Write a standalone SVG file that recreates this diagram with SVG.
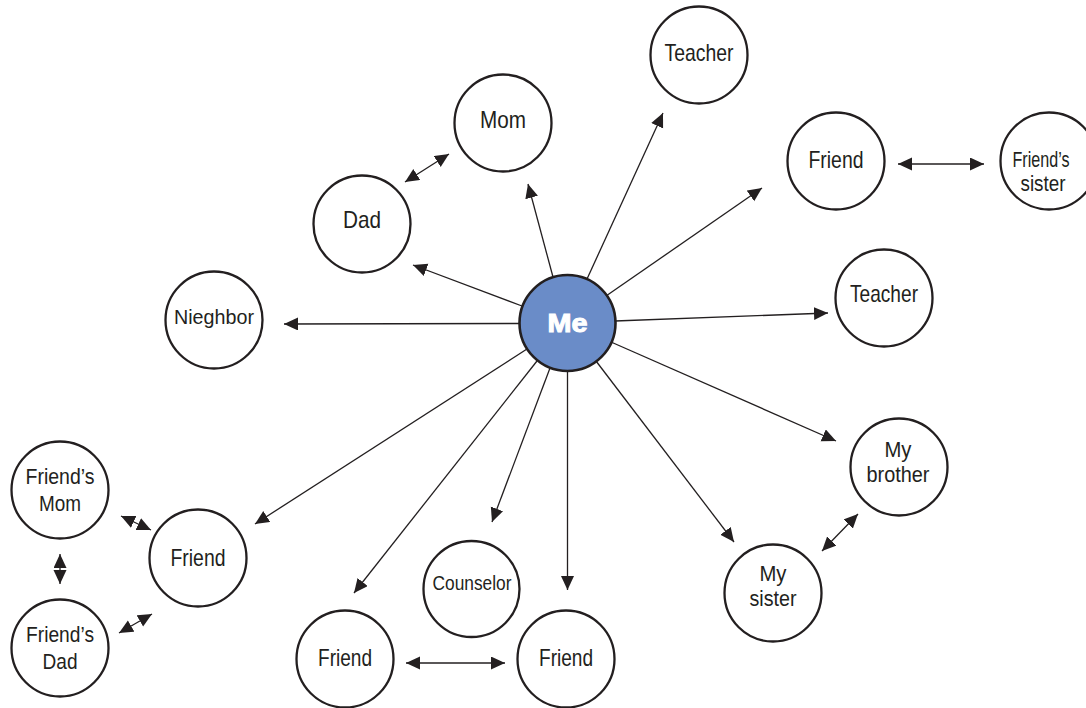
<svg xmlns="http://www.w3.org/2000/svg" width="1086" height="708" viewBox="0 0 1086 708">
<style>
.n{fill:#fff;stroke:#231f20;stroke-width:2.3}
.t{font-family:"Liberation Sans",Arial,sans-serif;font-size:24px;fill:#231f20;text-anchor:middle}
.t2{font-size:22px}
.s{font-size:20px}
.c{fill:none;stroke:#231f20;stroke-width:1.3}
.me{fill:#6a8cc8;stroke:#231f20;stroke-width:2.6}
.mt{font-family:"Liberation Sans",Arial,sans-serif;font-size:25px;font-weight:bold;fill:#fff;stroke:#fff;stroke-width:1;text-anchor:middle}
</style>
<defs>
<marker id="ah" markerUnits="userSpaceOnUse" markerWidth="15" markerHeight="14" refX="14" refY="6.5" orient="auto-start-reverse" viewBox="0 0 15 14">
<path d="M0,0 L14,6.5 L0,13 z" fill="#231f20"/>
</marker>
</defs>
<g id="connectors">
<line class="c" x1="587" y1="279" x2="663" y2="113" marker-end="url(#ah)"/>
<line class="c" x1="553" y1="277" x2="528" y2="184" marker-end="url(#ah)"/>
<line class="c" x1="522" y1="306" x2="413" y2="265" marker-end="url(#ah)"/>
<line class="c" x1="519" y1="323.5" x2="284" y2="324" marker-end="url(#ah)"/>
<line class="c" x1="606" y1="296" x2="762" y2="188" marker-end="url(#ah)"/>
<line class="c" x1="615" y1="321" x2="828" y2="313" marker-end="url(#ah)"/>
<line class="c" x1="611" y1="342" x2="836" y2="441" marker-end="url(#ah)"/>
<line class="c" x1="596" y1="361" x2="734" y2="542" marker-end="url(#ah)"/>
<line class="c" x1="567.5" y1="371" x2="567.5" y2="590" marker-end="url(#ah)"/>
<line class="c" x1="550" y1="368" x2="492" y2="522" marker-end="url(#ah)"/>
<line class="c" x1="537" y1="361" x2="354" y2="593" marker-end="url(#ah)"/>
<line class="c" x1="527" y1="349" x2="255" y2="524" marker-end="url(#ah)"/>
<line class="c" x1="405" y1="182" x2="449" y2="154" marker-start="url(#ah)" marker-end="url(#ah)"/>
<line class="c" x1="898" y1="164" x2="984" y2="164" marker-start="url(#ah)" marker-end="url(#ah)"/>
<line class="c" x1="822" y1="551" x2="858" y2="514" marker-start="url(#ah)" marker-end="url(#ah)"/>
<line class="c" x1="406" y1="663" x2="505" y2="663" marker-start="url(#ah)" marker-end="url(#ah)"/>
<line class="c" x1="121" y1="516" x2="151" y2="530" marker-start="url(#ah)" marker-end="url(#ah)"/>
<line class="c" x1="60" y1="554" x2="60" y2="584" marker-start="url(#ah)" marker-end="url(#ah)"/>
<line class="c" x1="119" y1="633" x2="152" y2="614" marker-start="url(#ah)" marker-end="url(#ah)"/>
</g>
<g id="me"><circle class="me" cx="567.5" cy="323" r="48"/><text class="mt" x="567.5" y="332" textLength="40" lengthAdjust="spacingAndGlyphs">Me</text></g>
<g id="teacher-top"><circle class="n" cx="699" cy="55" r="48.5"/><text class="t" x="699" y="61" textLength="69" lengthAdjust="spacingAndGlyphs">Teacher</text></g>
<g id="mom"><circle class="n" cx="503" cy="123" r="48.5"/><text class="t" x="503" y="128" textLength="46" lengthAdjust="spacingAndGlyphs">Mom</text></g>
<g id="dad"><circle class="n" cx="362" cy="224" r="48.5"/><text class="t" x="362" y="228" textLength="38" lengthAdjust="spacingAndGlyphs">Dad</text></g>
<g id="friend-tr"><circle class="n" cx="836" cy="161" r="48.5"/><text class="t" x="836" y="168" textLength="55" lengthAdjust="spacingAndGlyphs">Friend</text></g>
<g id="friends-sister"><circle class="n" cx="1049" cy="161" r="48.5"/><text class="t t2" x="1041" y="167" textLength="57" lengthAdjust="spacingAndGlyphs">Friend’s</text><text class="t t2" x="1043" y="191" textLength="45" lengthAdjust="spacingAndGlyphs">sister</text></g>
<g id="nieghbor"><circle class="n" cx="214" cy="320" r="48.5"/><text class="t s" x="214" y="324" textLength="80" lengthAdjust="spacingAndGlyphs">Nieghbor</text></g>
<g id="teacher-right"><circle class="n" cx="884" cy="298" r="48.5"/><text class="t" x="884" y="302" textLength="68" lengthAdjust="spacingAndGlyphs">Teacher</text></g>
<g id="my-brother"><circle class="n" cx="899" cy="467" r="48.5"/><text class="t t2" x="898" y="457" textLength="27" lengthAdjust="spacingAndGlyphs">My</text><text class="t t2" x="898" y="482" textLength="63" lengthAdjust="spacingAndGlyphs">brother</text></g>
<g id="my-sister"><circle class="n" cx="773" cy="593" r="48.5"/><text class="t t2" x="773" y="581" textLength="27" lengthAdjust="spacingAndGlyphs">My</text><text class="t t2" x="773" y="606" textLength="47" lengthAdjust="spacingAndGlyphs">sister</text></g>
<g id="counselor"><circle class="n" cx="471.5" cy="589" r="48"/><text class="t s" x="472" y="590" textLength="79" lengthAdjust="spacingAndGlyphs">Counselor</text></g>
<g id="friend-bl"><circle class="n" cx="345" cy="659" r="48.5"/><text class="t" x="345" y="666" textLength="54" lengthAdjust="spacingAndGlyphs">Friend</text></g>
<g id="friend-br"><circle class="n" cx="566" cy="659" r="48.5"/><text class="t" x="566" y="666" textLength="54" lengthAdjust="spacingAndGlyphs">Friend</text></g>
<g id="friend-left"><circle class="n" cx="198" cy="558" r="48.5"/><text class="t" x="198" y="566" textLength="55" lengthAdjust="spacingAndGlyphs">Friend</text></g>
<g id="friends-mom"><circle class="n" cx="60" cy="490" r="48.5"/><text class="t t2" x="60" y="484" textLength="69" lengthAdjust="spacingAndGlyphs">Friend’s</text><text class="t t2" x="60" y="511" textLength="42" lengthAdjust="spacingAndGlyphs">Mom</text></g>
<g id="friends-dad"><circle class="n" cx="60" cy="648" r="48.5"/><text class="t t2" x="60" y="642" textLength="68" lengthAdjust="spacingAndGlyphs">Friend’s</text><text class="t t2" x="60" y="669" textLength="35" lengthAdjust="spacingAndGlyphs">Dad</text></g>
</svg>
